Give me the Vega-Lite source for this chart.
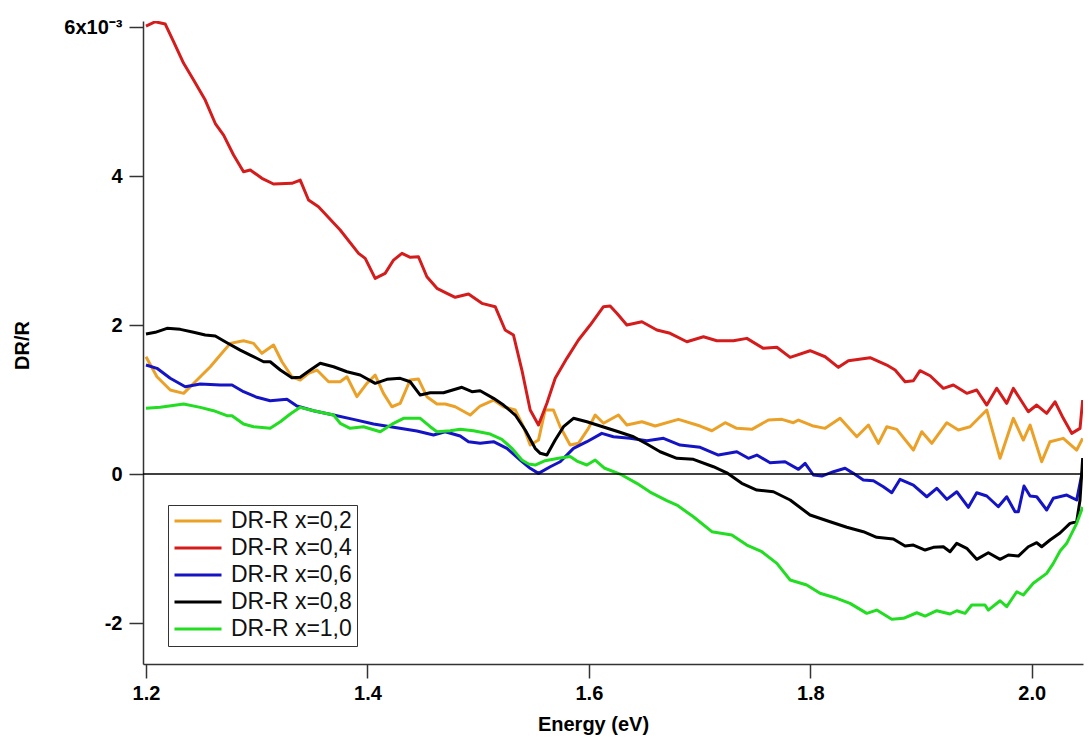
{
  "$schema": "https://vega.github.io/schema/vega-lite/v6.json",
  "autosize": {"type": "none"},
  "width": 940,
  "height": 643,
  "padding": {"left": 143, "top": 21, "right": 7, "bottom": 76},
  "background": "white",
  "config": {
    "view": {"stroke": null},
    "font": "Liberation Sans",
    "axis": {
      "grid": false,
      "domainColor": "#333333",
      "domainWidth": 1.5,
      "tickColor": "#333333",
      "tickWidth": 1.5,
      "tickSize": 14,
      "labelFont": "Liberation Sans",
      "labelFontWeight": "bold",
      "labelFontSize": 20,
      "labelColor": "#000000",
      "titleFont": "Liberation Sans",
      "titleFontWeight": "bold",
      "titleFontSize": 20,
      "titleColor": "#000000"
    }
  },
  "datasets": {
    "curves": [
      {"s": "DR-R x=0,2", "e": 1.2, "v": 1.574},
      {"s": "DR-R x=0,2", "e": 1.2099, "v": 1.306},
      {"s": "DR-R x=0,2", "e": 1.2219, "v": 1.128},
      {"s": "DR-R x=0,2", "e": 1.234, "v": 1.083},
      {"s": "DR-R x=0,2", "e": 1.2445, "v": 1.239},
      {"s": "DR-R x=0,2", "e": 1.2581, "v": 1.44},
      {"s": "DR-R x=0,2", "e": 1.2671, "v": 1.597},
      {"s": "DR-R x=0,2", "e": 1.2761, "v": 1.754},
      {"s": "DR-R x=0,2", "e": 1.2881, "v": 1.789},
      {"s": "DR-R x=0,2", "e": 1.2972, "v": 1.754},
      {"s": "DR-R x=0,2", "e": 1.3047, "v": 1.62},
      {"s": "DR-R x=0,2", "e": 1.3152, "v": 1.732},
      {"s": "DR-R x=0,2", "e": 1.3228, "v": 1.507},
      {"s": "DR-R x=0,2", "e": 1.3318, "v": 1.306},
      {"s": "DR-R x=0,2", "e": 1.3393, "v": 1.262},
      {"s": "DR-R x=0,2", "e": 1.3468, "v": 1.352},
      {"s": "DR-R x=0,2", "e": 1.3544, "v": 1.396},
      {"s": "DR-R x=0,2", "e": 1.3649, "v": 1.239},
      {"s": "DR-R x=0,2", "e": 1.3754, "v": 1.239},
      {"s": "DR-R x=0,2", "e": 1.3815, "v": 1.306},
      {"s": "DR-R x=0,2", "e": 1.3905, "v": 1.038},
      {"s": "DR-R x=0,2", "e": 1.3995, "v": 1.217},
      {"s": "DR-R x=0,2", "e": 1.407, "v": 1.329},
      {"s": "DR-R x=0,2", "e": 1.4145, "v": 1.083},
      {"s": "DR-R x=0,2", "e": 1.4221, "v": 0.903},
      {"s": "DR-R x=0,2", "e": 1.4296, "v": 0.949},
      {"s": "DR-R x=0,2", "e": 1.4386, "v": 1.262},
      {"s": "DR-R x=0,2", "e": 1.4461, "v": 1.275},
      {"s": "DR-R x=0,2", "e": 1.4537, "v": 1.038},
      {"s": "DR-R x=0,2", "e": 1.4628, "v": 0.94},
      {"s": "DR-R x=0,2", "e": 1.4702, "v": 0.94},
      {"s": "DR-R x=0,2", "e": 1.4793, "v": 0.903},
      {"s": "DR-R x=0,2", "e": 1.4928, "v": 0.792},
      {"s": "DR-R x=0,2", "e": 1.5018, "v": 0.913},
      {"s": "DR-R x=0,2", "e": 1.5139, "v": 0.993},
      {"s": "DR-R x=0,2", "e": 1.5229, "v": 0.903},
      {"s": "DR-R x=0,2", "e": 1.5335, "v": 0.859},
      {"s": "DR-R x=0,2", "e": 1.5409, "v": 0.635},
      {"s": "DR-R x=0,2", "e": 1.547, "v": 0.389},
      {"s": "DR-R x=0,2", "e": 1.5545, "v": 0.456},
      {"s": "DR-R x=0,2", "e": 1.5605, "v": 0.859},
      {"s": "DR-R x=0,2", "e": 1.568, "v": 0.859},
      {"s": "DR-R x=0,2", "e": 1.5741, "v": 0.635},
      {"s": "DR-R x=0,2", "e": 1.5831, "v": 0.389},
      {"s": "DR-R x=0,2", "e": 1.5906, "v": 0.412},
      {"s": "DR-R x=0,2", "e": 1.5996, "v": 0.613},
      {"s": "DR-R x=0,2", "e": 1.6057, "v": 0.792},
      {"s": "DR-R x=0,2", "e": 1.6132, "v": 0.681},
      {"s": "DR-R x=0,2", "e": 1.6267, "v": 0.792},
      {"s": "DR-R x=0,2", "e": 1.6343, "v": 0.658},
      {"s": "DR-R x=0,2", "e": 1.6479, "v": 0.702},
      {"s": "DR-R x=0,2", "e": 1.6599, "v": 0.644},
      {"s": "DR-R x=0,2", "e": 1.6809, "v": 0.734},
      {"s": "DR-R x=0,2", "e": 1.7005, "v": 0.644},
      {"s": "DR-R x=0,2", "e": 1.7111, "v": 0.581},
      {"s": "DR-R x=0,2", "e": 1.7231, "v": 0.689},
      {"s": "DR-R x=0,2", "e": 1.7336, "v": 0.613},
      {"s": "DR-R x=0,2", "e": 1.7472, "v": 0.6},
      {"s": "DR-R x=0,2", "e": 1.7622, "v": 0.725},
      {"s": "DR-R x=0,2", "e": 1.7743, "v": 0.734},
      {"s": "DR-R x=0,2", "e": 1.7847, "v": 0.689},
      {"s": "DR-R x=0,2", "e": 1.7893, "v": 0.725},
      {"s": "DR-R x=0,2", "e": 1.8028, "v": 0.644},
      {"s": "DR-R x=0,2", "e": 1.8134, "v": 0.613},
      {"s": "DR-R x=0,2", "e": 1.8269, "v": 0.748},
      {"s": "DR-R x=0,2", "e": 1.842, "v": 0.501},
      {"s": "DR-R x=0,2", "e": 1.8525, "v": 0.658},
      {"s": "DR-R x=0,2", "e": 1.8615, "v": 0.412},
      {"s": "DR-R x=0,2", "e": 1.8691, "v": 0.635},
      {"s": "DR-R x=0,2", "e": 1.8781, "v": 0.6},
      {"s": "DR-R x=0,2", "e": 1.8931, "v": 0.322},
      {"s": "DR-R x=0,2", "e": 1.9007, "v": 0.568},
      {"s": "DR-R x=0,2", "e": 1.9097, "v": 0.412},
      {"s": "DR-R x=0,2", "e": 1.9233, "v": 0.689},
      {"s": "DR-R x=0,2", "e": 1.9337, "v": 0.591},
      {"s": "DR-R x=0,2", "e": 1.9443, "v": 0.635},
      {"s": "DR-R x=0,2", "e": 1.9594, "v": 0.859},
      {"s": "DR-R x=0,2", "e": 1.9714, "v": 0.211},
      {"s": "DR-R x=0,2", "e": 1.9834, "v": 0.748},
      {"s": "DR-R x=0,2", "e": 1.9924, "v": 0.456},
      {"s": "DR-R x=0,2", "e": 1.9985, "v": 0.658},
      {"s": "DR-R x=0,2", "e": 2.009, "v": 0.165},
      {"s": "DR-R x=0,2", "e": 2.0165, "v": 0.434},
      {"s": "DR-R x=0,2", "e": 2.0285, "v": 0.479},
      {"s": "DR-R x=0,2", "e": 2.0406, "v": 0.322},
      {"s": "DR-R x=0,2", "e": 2.046, "v": 0.479},

      {"s": "DR-R x=0,4", "e": 1.2, "v": 6.013},
      {"s": "DR-R x=0,4", "e": 1.2084, "v": 6.071},
      {"s": "DR-R x=0,4", "e": 1.2174, "v": 6.04},
      {"s": "DR-R x=0,4", "e": 1.2249, "v": 5.803},
      {"s": "DR-R x=0,4", "e": 1.234, "v": 5.513},
      {"s": "DR-R x=0,4", "e": 1.243, "v": 5.289},
      {"s": "DR-R x=0,4", "e": 1.2535, "v": 5.02},
      {"s": "DR-R x=0,4", "e": 1.2626, "v": 4.705},
      {"s": "DR-R x=0,4", "e": 1.2701, "v": 4.55},
      {"s": "DR-R x=0,4", "e": 1.2791, "v": 4.282},
      {"s": "DR-R x=0,4", "e": 1.2881, "v": 4.058},
      {"s": "DR-R x=0,4", "e": 1.2942, "v": 4.081},
      {"s": "DR-R x=0,4", "e": 1.3047, "v": 3.969},
      {"s": "DR-R x=0,4", "e": 1.3152, "v": 3.893},
      {"s": "DR-R x=0,4", "e": 1.3318, "v": 3.902},
      {"s": "DR-R x=0,4", "e": 1.3393, "v": 3.946},
      {"s": "DR-R x=0,4", "e": 1.3468, "v": 3.678},
      {"s": "DR-R x=0,4", "e": 1.3558, "v": 3.588},
      {"s": "DR-R x=0,4", "e": 1.3754, "v": 3.275},
      {"s": "DR-R x=0,4", "e": 1.392, "v": 2.962},
      {"s": "DR-R x=0,4", "e": 1.398, "v": 2.895},
      {"s": "DR-R x=0,4", "e": 1.407, "v": 2.627},
      {"s": "DR-R x=0,4", "e": 1.416, "v": 2.694},
      {"s": "DR-R x=0,4", "e": 1.4236, "v": 2.872},
      {"s": "DR-R x=0,4", "e": 1.4312, "v": 2.962},
      {"s": "DR-R x=0,4", "e": 1.4387, "v": 2.909},
      {"s": "DR-R x=0,4", "e": 1.4461, "v": 2.917},
      {"s": "DR-R x=0,4", "e": 1.4537, "v": 2.648},
      {"s": "DR-R x=0,4", "e": 1.4628, "v": 2.493},
      {"s": "DR-R x=0,4", "e": 1.4718, "v": 2.426},
      {"s": "DR-R x=0,4", "e": 1.4793, "v": 2.372},
      {"s": "DR-R x=0,4", "e": 1.4913, "v": 2.416},
      {"s": "DR-R x=0,4", "e": 1.5034, "v": 2.291},
      {"s": "DR-R x=0,4", "e": 1.5154, "v": 2.246},
      {"s": "DR-R x=0,4", "e": 1.5244, "v": 1.933},
      {"s": "DR-R x=0,4", "e": 1.5319, "v": 1.866},
      {"s": "DR-R x=0,4", "e": 1.5395, "v": 1.396},
      {"s": "DR-R x=0,4", "e": 1.547, "v": 0.859},
      {"s": "DR-R x=0,4", "e": 1.5545, "v": 0.658},
      {"s": "DR-R x=0,4", "e": 1.5621, "v": 0.949},
      {"s": "DR-R x=0,4", "e": 1.5696, "v": 1.285},
      {"s": "DR-R x=0,4", "e": 1.5801, "v": 1.553},
      {"s": "DR-R x=0,4", "e": 1.5906, "v": 1.799},
      {"s": "DR-R x=0,4", "e": 1.6012, "v": 2.0},
      {"s": "DR-R x=0,4", "e": 1.6132, "v": 2.246},
      {"s": "DR-R x=0,4", "e": 1.6192, "v": 2.255},
      {"s": "DR-R x=0,4", "e": 1.6253, "v": 2.157},
      {"s": "DR-R x=0,4", "e": 1.6343, "v": 2.0},
      {"s": "DR-R x=0,4", "e": 1.6479, "v": 2.044},
      {"s": "DR-R x=0,4", "e": 1.6614, "v": 1.933},
      {"s": "DR-R x=0,4", "e": 1.6734, "v": 1.889},
      {"s": "DR-R x=0,4", "e": 1.6885, "v": 1.776},
      {"s": "DR-R x=0,4", "e": 1.7035, "v": 1.843},
      {"s": "DR-R x=0,4", "e": 1.7156, "v": 1.789},
      {"s": "DR-R x=0,4", "e": 1.7306, "v": 1.789},
      {"s": "DR-R x=0,4", "e": 1.7427, "v": 1.821},
      {"s": "DR-R x=0,4", "e": 1.7577, "v": 1.687},
      {"s": "DR-R x=0,4", "e": 1.7698, "v": 1.701},
      {"s": "DR-R x=0,4", "e": 1.7818, "v": 1.566},
      {"s": "DR-R x=0,4", "e": 1.7998, "v": 1.655},
      {"s": "DR-R x=0,4", "e": 1.8134, "v": 1.574},
      {"s": "DR-R x=0,4", "e": 1.8254, "v": 1.432},
      {"s": "DR-R x=0,4", "e": 1.8344, "v": 1.521},
      {"s": "DR-R x=0,4", "e": 1.854, "v": 1.561},
      {"s": "DR-R x=0,4", "e": 1.8691, "v": 1.463},
      {"s": "DR-R x=0,4", "e": 1.8766, "v": 1.396},
      {"s": "DR-R x=0,4", "e": 1.8856, "v": 1.239},
      {"s": "DR-R x=0,4", "e": 1.8931, "v": 1.252},
      {"s": "DR-R x=0,4", "e": 1.8991, "v": 1.387},
      {"s": "DR-R x=0,4", "e": 1.9082, "v": 1.319},
      {"s": "DR-R x=0,4", "e": 1.9202, "v": 1.15},
      {"s": "DR-R x=0,4", "e": 1.9292, "v": 1.195},
      {"s": "DR-R x=0,4", "e": 1.9413, "v": 1.083},
      {"s": "DR-R x=0,4", "e": 1.9503, "v": 1.128},
      {"s": "DR-R x=0,4", "e": 1.9594, "v": 0.926},
      {"s": "DR-R x=0,4", "e": 1.9684, "v": 1.15},
      {"s": "DR-R x=0,4", "e": 1.9774, "v": 0.949},
      {"s": "DR-R x=0,4", "e": 1.9834, "v": 1.15},
      {"s": "DR-R x=0,4", "e": 1.9969, "v": 0.836},
      {"s": "DR-R x=0,4", "e": 2.0045, "v": 0.926},
      {"s": "DR-R x=0,4", "e": 2.0135, "v": 0.815},
      {"s": "DR-R x=0,4", "e": 2.021, "v": 0.97},
      {"s": "DR-R x=0,4", "e": 2.0285, "v": 0.748},
      {"s": "DR-R x=0,4", "e": 2.0361, "v": 0.546},
      {"s": "DR-R x=0,4", "e": 2.0436, "v": 0.613},
      {"s": "DR-R x=0,4", "e": 2.046, "v": 0.993},

      {"s": "DR-R x=0,6", "e": 1.2, "v": 1.463},
      {"s": "DR-R x=0,6", "e": 1.2099, "v": 1.419},
      {"s": "DR-R x=0,6", "e": 1.2219, "v": 1.285},
      {"s": "DR-R x=0,6", "e": 1.2355, "v": 1.172},
      {"s": "DR-R x=0,6", "e": 1.249, "v": 1.208},
      {"s": "DR-R x=0,6", "e": 1.2671, "v": 1.195},
      {"s": "DR-R x=0,6", "e": 1.2777, "v": 1.195},
      {"s": "DR-R x=0,6", "e": 1.2881, "v": 1.105},
      {"s": "DR-R x=0,6", "e": 1.3002, "v": 1.03},
      {"s": "DR-R x=0,6", "e": 1.3122, "v": 0.984},
      {"s": "DR-R x=0,6", "e": 1.3273, "v": 1.003},
      {"s": "DR-R x=0,6", "e": 1.3363, "v": 0.913},
      {"s": "DR-R x=0,6", "e": 1.3513, "v": 0.85},
      {"s": "DR-R x=0,6", "e": 1.3694, "v": 0.792},
      {"s": "DR-R x=0,6", "e": 1.3874, "v": 0.734},
      {"s": "DR-R x=0,6", "e": 1.4055, "v": 0.671},
      {"s": "DR-R x=0,6", "e": 1.4236, "v": 0.627},
      {"s": "DR-R x=0,6", "e": 1.4447, "v": 0.577},
      {"s": "DR-R x=0,6", "e": 1.4597, "v": 0.523},
      {"s": "DR-R x=0,6", "e": 1.4702, "v": 0.568},
      {"s": "DR-R x=0,6", "e": 1.4838, "v": 0.51},
      {"s": "DR-R x=0,6", "e": 1.4913, "v": 0.434},
      {"s": "DR-R x=0,6", "e": 1.5018, "v": 0.412},
      {"s": "DR-R x=0,6", "e": 1.5139, "v": 0.434},
      {"s": "DR-R x=0,6", "e": 1.526, "v": 0.345},
      {"s": "DR-R x=0,6", "e": 1.538, "v": 0.188},
      {"s": "DR-R x=0,6", "e": 1.547, "v": 0.077},
      {"s": "DR-R x=0,6", "e": 1.5545, "v": 0.009},
      {"s": "DR-R x=0,6", "e": 1.5651, "v": 0.098},
      {"s": "DR-R x=0,6", "e": 1.5741, "v": 0.165},
      {"s": "DR-R x=0,6", "e": 1.5861, "v": 0.345},
      {"s": "DR-R x=0,6", "e": 1.5982, "v": 0.434},
      {"s": "DR-R x=0,6", "e": 1.6117, "v": 0.546},
      {"s": "DR-R x=0,6", "e": 1.6222, "v": 0.501},
      {"s": "DR-R x=0,6", "e": 1.6372, "v": 0.479},
      {"s": "DR-R x=0,6", "e": 1.6524, "v": 0.447},
      {"s": "DR-R x=0,6", "e": 1.6674, "v": 0.479},
      {"s": "DR-R x=0,6", "e": 1.6824, "v": 0.389},
      {"s": "DR-R x=0,6", "e": 1.7005, "v": 0.358},
      {"s": "DR-R x=0,6", "e": 1.717, "v": 0.255},
      {"s": "DR-R x=0,6", "e": 1.7336, "v": 0.299},
      {"s": "DR-R x=0,6", "e": 1.7441, "v": 0.211},
      {"s": "DR-R x=0,6", "e": 1.7517, "v": 0.255},
      {"s": "DR-R x=0,6", "e": 1.7637, "v": 0.152},
      {"s": "DR-R x=0,6", "e": 1.7772, "v": 0.165},
      {"s": "DR-R x=0,6", "e": 1.7893, "v": 0.063},
      {"s": "DR-R x=0,6", "e": 1.7953, "v": 0.144},
      {"s": "DR-R x=0,6", "e": 1.8028, "v": -0.013},
      {"s": "DR-R x=0,6", "e": 1.8104, "v": -0.027},
      {"s": "DR-R x=0,6", "e": 1.8209, "v": 0.031},
      {"s": "DR-R x=0,6", "e": 1.8314, "v": 0.077},
      {"s": "DR-R x=0,6", "e": 1.8389, "v": 0.009},
      {"s": "DR-R x=0,6", "e": 1.8479, "v": -0.081},
      {"s": "DR-R x=0,6", "e": 1.857, "v": -0.09},
      {"s": "DR-R x=0,6", "e": 1.866, "v": -0.17},
      {"s": "DR-R x=0,6", "e": 1.8736, "v": -0.251},
      {"s": "DR-R x=0,6", "e": 1.8811, "v": -0.071},
      {"s": "DR-R x=0,6", "e": 1.8931, "v": -0.148},
      {"s": "DR-R x=0,6", "e": 1.9052, "v": -0.305},
      {"s": "DR-R x=0,6", "e": 1.9142, "v": -0.192},
      {"s": "DR-R x=0,6", "e": 1.9233, "v": -0.34},
      {"s": "DR-R x=0,6", "e": 1.9323, "v": -0.238},
      {"s": "DR-R x=0,6", "e": 1.9428, "v": -0.447},
      {"s": "DR-R x=0,6", "e": 1.9503, "v": -0.251},
      {"s": "DR-R x=0,6", "e": 1.9594, "v": -0.295},
      {"s": "DR-R x=0,6", "e": 1.9698, "v": -0.439},
      {"s": "DR-R x=0,6", "e": 1.9774, "v": -0.305},
      {"s": "DR-R x=0,6", "e": 1.9849, "v": -0.506},
      {"s": "DR-R x=0,6", "e": 1.9879, "v": -0.506},
      {"s": "DR-R x=0,6", "e": 1.993, "v": -0.161},
      {"s": "DR-R x=0,6", "e": 1.9985, "v": -0.295},
      {"s": "DR-R x=0,6", "e": 2.0045, "v": -0.305},
      {"s": "DR-R x=0,6", "e": 2.0135, "v": -0.483},
      {"s": "DR-R x=0,6", "e": 2.0195, "v": -0.326},
      {"s": "DR-R x=0,6", "e": 2.0316, "v": -0.282},
      {"s": "DR-R x=0,6", "e": 2.0406, "v": -0.349},
      {"s": "DR-R x=0,6", "e": 2.046, "v": 0.054},

      {"s": "DR-R x=0,8", "e": 1.2, "v": 1.879},
      {"s": "DR-R x=0,8", "e": 1.2084, "v": 1.902},
      {"s": "DR-R x=0,8", "e": 1.219, "v": 1.956},
      {"s": "DR-R x=0,8", "e": 1.231, "v": 1.942},
      {"s": "DR-R x=0,8", "e": 1.243, "v": 1.902},
      {"s": "DR-R x=0,8", "e": 1.2535, "v": 1.866},
      {"s": "DR-R x=0,8", "e": 1.2626, "v": 1.852},
      {"s": "DR-R x=0,8", "e": 1.2731, "v": 1.762},
      {"s": "DR-R x=0,8", "e": 1.2851, "v": 1.664},
      {"s": "DR-R x=0,8", "e": 1.2942, "v": 1.597},
      {"s": "DR-R x=0,8", "e": 1.3062, "v": 1.507},
      {"s": "DR-R x=0,8", "e": 1.3122, "v": 1.507},
      {"s": "DR-R x=0,8", "e": 1.3213, "v": 1.396},
      {"s": "DR-R x=0,8", "e": 1.3318, "v": 1.293},
      {"s": "DR-R x=0,8", "e": 1.3393, "v": 1.298},
      {"s": "DR-R x=0,8", "e": 1.3484, "v": 1.396},
      {"s": "DR-R x=0,8", "e": 1.3574, "v": 1.486},
      {"s": "DR-R x=0,8", "e": 1.3694, "v": 1.44},
      {"s": "DR-R x=0,8", "e": 1.3815, "v": 1.373},
      {"s": "DR-R x=0,8", "e": 1.3935, "v": 1.329},
      {"s": "DR-R x=0,8", "e": 1.407, "v": 1.217},
      {"s": "DR-R x=0,8", "e": 1.4176, "v": 1.271},
      {"s": "DR-R x=0,8", "e": 1.4296, "v": 1.285},
      {"s": "DR-R x=0,8", "e": 1.4386, "v": 1.239},
      {"s": "DR-R x=0,8", "e": 1.4477, "v": 1.06},
      {"s": "DR-R x=0,8", "e": 1.4567, "v": 1.091},
      {"s": "DR-R x=0,8", "e": 1.4687, "v": 1.091},
      {"s": "DR-R x=0,8", "e": 1.4853, "v": 1.164},
      {"s": "DR-R x=0,8", "e": 1.4944, "v": 1.105},
      {"s": "DR-R x=0,8", "e": 1.5018, "v": 1.118},
      {"s": "DR-R x=0,8", "e": 1.5139, "v": 1.016},
      {"s": "DR-R x=0,8", "e": 1.5229, "v": 0.926},
      {"s": "DR-R x=0,8", "e": 1.5335, "v": 0.792},
      {"s": "DR-R x=0,8", "e": 1.5425, "v": 0.591},
      {"s": "DR-R x=0,8", "e": 1.5515, "v": 0.345},
      {"s": "DR-R x=0,8", "e": 1.5561, "v": 0.278},
      {"s": "DR-R x=0,8", "e": 1.5621, "v": 0.255},
      {"s": "DR-R x=0,8", "e": 1.5696, "v": 0.456},
      {"s": "DR-R x=0,8", "e": 1.5771, "v": 0.635},
      {"s": "DR-R x=0,8", "e": 1.5861, "v": 0.748},
      {"s": "DR-R x=0,8", "e": 1.5982, "v": 0.702},
      {"s": "DR-R x=0,8", "e": 1.6132, "v": 0.631},
      {"s": "DR-R x=0,8", "e": 1.6267, "v": 0.568},
      {"s": "DR-R x=0,8", "e": 1.6403, "v": 0.501},
      {"s": "DR-R x=0,8", "e": 1.6524, "v": 0.403},
      {"s": "DR-R x=0,8", "e": 1.6644, "v": 0.299},
      {"s": "DR-R x=0,8", "e": 1.6795, "v": 0.211},
      {"s": "DR-R x=0,8", "e": 1.6944, "v": 0.197},
      {"s": "DR-R x=0,8", "e": 1.7125, "v": 0.098},
      {"s": "DR-R x=0,8", "e": 1.7246, "v": 0.017},
      {"s": "DR-R x=0,8", "e": 1.7381, "v": -0.125},
      {"s": "DR-R x=0,8", "e": 1.7517, "v": -0.215},
      {"s": "DR-R x=0,8", "e": 1.7667, "v": -0.238},
      {"s": "DR-R x=0,8", "e": 1.7818, "v": -0.349},
      {"s": "DR-R x=0,8", "e": 1.7998, "v": -0.55},
      {"s": "DR-R x=0,8", "e": 1.8179, "v": -0.64},
      {"s": "DR-R x=0,8", "e": 1.833, "v": -0.715},
      {"s": "DR-R x=0,8", "e": 1.8479, "v": -0.774},
      {"s": "DR-R x=0,8", "e": 1.86, "v": -0.85},
      {"s": "DR-R x=0,8", "e": 1.875, "v": -0.872},
      {"s": "DR-R x=0,8", "e": 1.8856, "v": -0.966},
      {"s": "DR-R x=0,8", "e": 1.8931, "v": -0.953},
      {"s": "DR-R x=0,8", "e": 1.9037, "v": -1.02},
      {"s": "DR-R x=0,8", "e": 1.9112, "v": -0.984},
      {"s": "DR-R x=0,8", "e": 1.9202, "v": -0.976},
      {"s": "DR-R x=0,8", "e": 1.9262, "v": -1.043},
      {"s": "DR-R x=0,8", "e": 1.9323, "v": -0.93},
      {"s": "DR-R x=0,8", "e": 1.9413, "v": -0.997},
      {"s": "DR-R x=0,8", "e": 1.9503, "v": -1.145},
      {"s": "DR-R x=0,8", "e": 1.9608, "v": -1.056},
      {"s": "DR-R x=0,8", "e": 1.9714, "v": -1.145},
      {"s": "DR-R x=0,8", "e": 1.9789, "v": -1.087},
      {"s": "DR-R x=0,8", "e": 1.9879, "v": -1.101},
      {"s": "DR-R x=0,8", "e": 1.9969, "v": -0.976},
      {"s": "DR-R x=0,8", "e": 2.0045, "v": -0.922},
      {"s": "DR-R x=0,8", "e": 2.009, "v": -0.976},
      {"s": "DR-R x=0,8", "e": 2.0165, "v": -0.886},
      {"s": "DR-R x=0,8", "e": 2.0255, "v": -0.792},
      {"s": "DR-R x=0,8", "e": 2.0346, "v": -0.662},
      {"s": "DR-R x=0,8", "e": 2.0406, "v": -0.64},
      {"s": "DR-R x=0,8", "e": 2.0436, "v": -0.349},
      {"s": "DR-R x=0,8", "e": 2.046, "v": 0.215},

      {"s": "DR-R x=1,0", "e": 1.2, "v": 0.882},
      {"s": "DR-R x=1,0", "e": 1.2129, "v": 0.895},
      {"s": "DR-R x=1,0", "e": 1.234, "v": 0.94},
      {"s": "DR-R x=1,0", "e": 1.249, "v": 0.895},
      {"s": "DR-R x=1,0", "e": 1.261, "v": 0.85},
      {"s": "DR-R x=1,0", "e": 1.2731, "v": 0.783},
      {"s": "DR-R x=1,0", "e": 1.2777, "v": 0.783},
      {"s": "DR-R x=1,0", "e": 1.2881, "v": 0.671},
      {"s": "DR-R x=1,0", "e": 1.2972, "v": 0.635},
      {"s": "DR-R x=1,0", "e": 1.3122, "v": 0.613},
      {"s": "DR-R x=1,0", "e": 1.3213, "v": 0.702},
      {"s": "DR-R x=1,0", "e": 1.3303, "v": 0.805},
      {"s": "DR-R x=1,0", "e": 1.3393, "v": 0.895},
      {"s": "DR-R x=1,0", "e": 1.3513, "v": 0.85},
      {"s": "DR-R x=1,0", "e": 1.3694, "v": 0.792},
      {"s": "DR-R x=1,0", "e": 1.3754, "v": 0.681},
      {"s": "DR-R x=1,0", "e": 1.3844, "v": 0.613},
      {"s": "DR-R x=1,0", "e": 1.3965, "v": 0.635},
      {"s": "DR-R x=1,0", "e": 1.4116, "v": 0.568},
      {"s": "DR-R x=1,0", "e": 1.4236, "v": 0.681},
      {"s": "DR-R x=1,0", "e": 1.4326, "v": 0.748},
      {"s": "DR-R x=1,0", "e": 1.4477, "v": 0.748},
      {"s": "DR-R x=1,0", "e": 1.4567, "v": 0.635},
      {"s": "DR-R x=1,0", "e": 1.4628, "v": 0.568},
      {"s": "DR-R x=1,0", "e": 1.4748, "v": 0.581},
      {"s": "DR-R x=1,0", "e": 1.4838, "v": 0.6},
      {"s": "DR-R x=1,0", "e": 1.4958, "v": 0.581},
      {"s": "DR-R x=1,0", "e": 1.5109, "v": 0.537},
      {"s": "DR-R x=1,0", "e": 1.5214, "v": 0.466},
      {"s": "DR-R x=1,0", "e": 1.5305, "v": 0.345},
      {"s": "DR-R x=1,0", "e": 1.5395, "v": 0.188},
      {"s": "DR-R x=1,0", "e": 1.5455, "v": 0.134},
      {"s": "DR-R x=1,0", "e": 1.5515, "v": 0.121},
      {"s": "DR-R x=1,0", "e": 1.5605, "v": 0.179},
      {"s": "DR-R x=1,0", "e": 1.5726, "v": 0.211},
      {"s": "DR-R x=1,0", "e": 1.5831, "v": 0.235},
      {"s": "DR-R x=1,0", "e": 1.5892, "v": 0.174},
      {"s": "DR-R x=1,0", "e": 1.5982, "v": 0.121},
      {"s": "DR-R x=1,0", "e": 1.6057, "v": 0.188},
      {"s": "DR-R x=1,0", "e": 1.6138, "v": 0.081},
      {"s": "DR-R x=1,0", "e": 1.6282, "v": 0.0},
      {"s": "DR-R x=1,0", "e": 1.6433, "v": -0.125},
      {"s": "DR-R x=1,0", "e": 1.6553, "v": -0.242},
      {"s": "DR-R x=1,0", "e": 1.6704, "v": -0.356},
      {"s": "DR-R x=1,0", "e": 1.6795, "v": -0.416},
      {"s": "DR-R x=1,0", "e": 1.6944, "v": -0.573},
      {"s": "DR-R x=1,0", "e": 1.7111, "v": -0.774},
      {"s": "DR-R x=1,0", "e": 1.7291, "v": -0.819},
      {"s": "DR-R x=1,0", "e": 1.7427, "v": -0.953},
      {"s": "DR-R x=1,0", "e": 1.7562, "v": -1.043},
      {"s": "DR-R x=1,0", "e": 1.7698, "v": -1.199},
      {"s": "DR-R x=1,0", "e": 1.7818, "v": -1.423},
      {"s": "DR-R x=1,0", "e": 1.7968, "v": -1.49},
      {"s": "DR-R x=1,0", "e": 1.8088, "v": -1.601},
      {"s": "DR-R x=1,0", "e": 1.8239, "v": -1.668},
      {"s": "DR-R x=1,0", "e": 1.8359, "v": -1.736},
      {"s": "DR-R x=1,0", "e": 1.851, "v": -1.87},
      {"s": "DR-R x=1,0", "e": 1.86, "v": -1.826},
      {"s": "DR-R x=1,0", "e": 1.8736, "v": -1.95},
      {"s": "DR-R x=1,0", "e": 1.8841, "v": -1.937},
      {"s": "DR-R x=1,0", "e": 1.8962, "v": -1.862},
      {"s": "DR-R x=1,0", "e": 1.9037, "v": -1.906},
      {"s": "DR-R x=1,0", "e": 1.9142, "v": -1.835},
      {"s": "DR-R x=1,0", "e": 1.9262, "v": -1.879},
      {"s": "DR-R x=1,0", "e": 1.9323, "v": -1.835},
      {"s": "DR-R x=1,0", "e": 1.9398, "v": -1.87},
      {"s": "DR-R x=1,0", "e": 1.9458, "v": -1.758},
      {"s": "DR-R x=1,0", "e": 1.9578, "v": -1.758},
      {"s": "DR-R x=1,0", "e": 1.9608, "v": -1.826},
      {"s": "DR-R x=1,0", "e": 1.9714, "v": -1.701},
      {"s": "DR-R x=1,0", "e": 1.9774, "v": -1.781},
      {"s": "DR-R x=1,0", "e": 1.9865, "v": -1.58},
      {"s": "DR-R x=1,0", "e": 1.9924, "v": -1.624},
      {"s": "DR-R x=1,0", "e": 2.0014, "v": -1.467},
      {"s": "DR-R x=1,0", "e": 2.0135, "v": -1.333},
      {"s": "DR-R x=1,0", "e": 2.0195, "v": -1.199},
      {"s": "DR-R x=1,0", "e": 2.0256, "v": -1.034},
      {"s": "DR-R x=1,0", "e": 2.0316, "v": -0.93},
      {"s": "DR-R x=1,0", "e": 2.0406, "v": -0.662},
      {"s": "DR-R x=1,0", "e": 2.046, "v": -0.443}
    ]
  },
  "layer": [
    {
      "data": {"name": "curves"},
      "mark": {"type": "line", "strokeWidth": 3, "strokeJoin": "round", "clip": true},
      "encoding": {
        "x": {
          "field": "e",
          "type": "quantitative",
          "scale": {"domain": [1.1973, 2.0463], "nice": false, "zero": false},
          "axis": {
            "values": [1.2, 1.4, 1.6, 1.8, 2.0],
            "format": ".1f",
            "labelPadding": 5,
            "title": "Energy (eV)",
            "titleX": 450,
            "titleY": 60,
            "titleBaseline": "middle",
            "titleAlign": "center"
          }
        },
        "y": {
          "field": "v",
          "type": "quantitative",
          "scale": {"domain": [-2.55, 6.081], "nice": false, "zero": false},
          "axis": {
            "values": [-2, 0, 2, 4, 6],
            "labelExpr": "datum.value == 6 ? '6x10⁻³' : (datum.value < 0 ? '-' + (-datum.value) : '' + datum.value)",
            "labelPadding": 7,
            "title": "DR/R",
            "titleAngle": 270,
            "titleX": -121,
            "titleY": 324,
            "titleBaseline": "middle",
            "titleAlign": "center"
          }
        },
        "color": {
          "field": "s",
          "type": "nominal",
          "scale": {
            "domain": ["DR-R x=0,2", "DR-R x=0,4", "DR-R x=0,6", "DR-R x=0,8", "DR-R x=1,0"],
            "range": ["#EBA128", "#D41C1C", "#1414C4", "#000000", "#22DD22"]
          },
          "legend": {
            "title": null,
            "orient": "none",
            "legendX": 25,
            "legendY": 484,
            "symbolType": "stroke",
            "symbolSize": 2209,
            "symbolStrokeWidth": 3,
            "clipHeight": 22,
            "rowPadding": 4,
            "padding": 5,
            "labelOffset": 8,
            "labelFont": "Liberation Sans",
            "labelFontSize": 23,
            "labelColor": "#111111",
            "labelLimit": 400,
            "strokeColor": "#333333",
            "fillColor": "#FFFFFF"
          }
        }
      }
    },
    {
      "data": {"values": [{}]},
      "mark": {"type": "rule", "color": "#000000", "strokeWidth": 1.5},
      "encoding": {"y": {"datum": 0}}
    }
  ]
}
